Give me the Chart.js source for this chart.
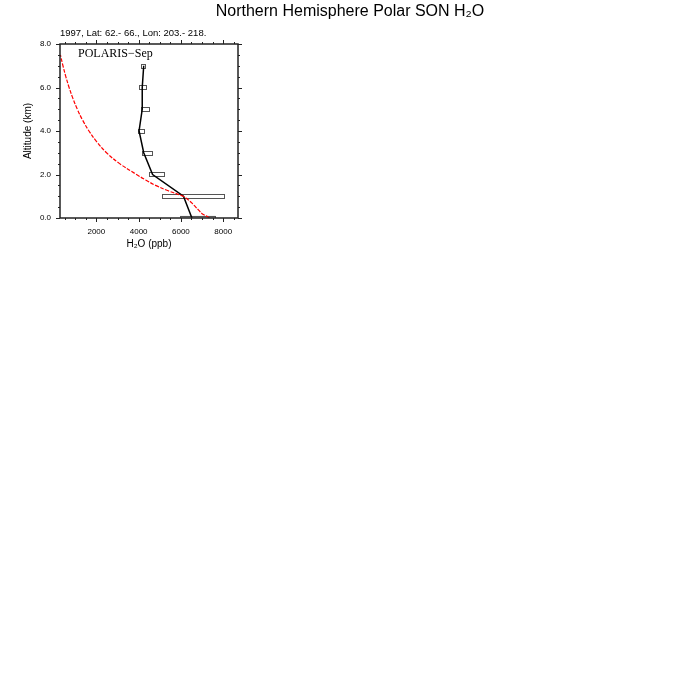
<!DOCTYPE html>
<html>
<head>
<meta charset="utf-8">
<script src="https://cdn.jsdelivr.net/npm/chart.js@4.4.1/dist/chart.umd.min.js"></script>
<style>
  html, body { margin: 0; padding: 0; background: #fff; }
  #wrap { width: 700px; height: 700px; }
</style>
</head>
<body>
<div id="wrap"><canvas id="profile" width="700" height="700"></canvas></div>
<script>
// observed profile (POLARIS, Sep)
const altitudes = [0, 1, 2, 3, 4, 5, 6, 7];
const obsMedian = [6520, 6120, 4660, 4240, 4020, 4170, 4170, 4240];
const boxLow  = [5960, 5120, 4480, 4140, 3960, 4100, 4040, 4130];
const boxHigh = [7630, 8070, 5190, 4590, 4240, 4470, 4370, 4330];

// model profile (red dashed)
const modelAlt = [0.0, 0.05, 0.2, 0.35, 0.5, 0.66, 0.85, 1.0, 1.25, 1.5, 1.75, 2.0, 2.5, 3.0, 3.5, 4.0, 4.5, 5.0, 5.5, 6.0, 6.5, 7.0, 7.5];
const modelH2O = [7350, 7280, 7000, 6850, 6700, 6550, 6330, 6100, 5400, 4800, 4330, 3900, 3100, 2480, 2020, 1650, 1350, 1100, 890, 710, 555, 420, 300];

const xTicks = [2000, 4000, 6000, 8000];
const yTicks = [0, 2, 4, 6, 8];
const xMinor = [500, 1000, 1500, 2500, 3000, 3500, 4500, 5000, 5500, 6500, 7000, 7500, 8500];
const yMinor = [0.5, 1, 1.5, 2.5, 3, 3.5, 4.5, 5, 5.5, 6.5, 7, 7.5];

const titleText = 'Northern Hemisphere Polar SON H\u2082O';
const subText = '1997, Lat: 62.- 66., Lon: 203.- 218.';
const panelLabel = 'POLARIS\u2212Sep';

const sans = 'Liberation Sans, Arial, Helvetica, sans-serif';

const boxPlugin = {
  id: 'boxes',
  beforeDatasetsDraw(chart) {
    const {ctx, chartArea, scales: {x, y}} = chart;
    ctx.save();
    ctx.beginPath();
    ctx.rect(chartArea.left, chartArea.top, chartArea.right - chartArea.left, chartArea.bottom - chartArea.top);
    ctx.clip();
    altitudes.forEach((a, i) => {
      const x0 = x.getPixelForValue(boxLow[i]);
      const x1 = x.getPixelForValue(boxHigh[i]);
      const y0 = y.getPixelForValue(a + 0.1);
      const y1 = y.getPixelForValue(a - 0.1);
      if (i === 0) {
        ctx.fillStyle = '#c4c4c4';
        ctx.fillRect(x0, y0, x1 - x0, y1 - y0);
      }
      ctx.strokeStyle = '#555';
      ctx.lineWidth = 1;
      ctx.strokeRect(Math.round(x0) + 0.5, Math.round(y0) + 0.5, Math.round(x1 - x0), Math.round(y1 - y0));
    });
    ctx.restore();
  }
};

const framePlugin = {
  id: 'frame',
  afterDraw(chart) {
    const {ctx, chartArea: ca, scales: {x, y}} = chart;
    ctx.save();
    ctx.strokeStyle = '#222';
    ctx.lineWidth = 1.5;
    ctx.strokeRect(ca.left, ca.top, ca.right - ca.left, ca.bottom - ca.top);
    ctx.lineWidth = 1;
    ctx.beginPath();
    const tick = (v, len, horiz) => {
      if (horiz) {
        const px = Math.round(x.getPixelForValue(v)) + 0.5;
        if (px < ca.left || px > ca.right) return;
        ctx.moveTo(px, ca.bottom); ctx.lineTo(px, ca.bottom + len);
        ctx.moveTo(px, ca.top); ctx.lineTo(px, ca.top - len);
      } else {
        const py = Math.round(y.getPixelForValue(v)) + 0.5;
        ctx.moveTo(ca.left, py); ctx.lineTo(ca.left - len, py);
        ctx.moveTo(ca.right, py); ctx.lineTo(ca.right + len, py);
      }
    };
    xTicks.forEach(v => tick(v, 4, true));
    xMinor.forEach(v => tick(v, 2, true));
    yTicks.forEach(v => tick(v, 4, false));
    yMinor.forEach(v => tick(v, 2, false));
    ctx.stroke();

    ctx.fillStyle = '#000';
    ctx.textBaseline = 'middle';
    ctx.textAlign = 'center';
    ctx.font = '16px ' + sans;
    ctx.fillText(titleText, 350, 12);
    ctx.textAlign = 'left';
    ctx.font = '9.5px ' + sans;
    ctx.fillText(subText, ca.left, 33);
    ctx.font = '12px Liberation Serif, Times New Roman, serif';
    ctx.fillText(panelLabel, ca.left + 18, 54);
    ctx.restore();
  }
};

new Chart(document.getElementById('profile').getContext('2d'), {
  type: 'scatter',
  data: {
    datasets: [
      {
        label: 'model',
        data: modelAlt.map((a, i) => ({x: modelH2O[i], y: a})),
        showLine: true,
        borderColor: '#ff0000',
        borderWidth: 1.2,
        borderDash: [4, 1.5],
        pointRadius: 0,
        tension: 0.4,
        fill: false
      },
      {
        label: 'obs',
        data: altitudes.map((a, i) => ({x: obsMedian[i], y: a})),
        showLine: true,
        borderColor: '#000',
        borderWidth: 1.5,
        pointRadius: 0,
        tension: 0,
        fill: false
      }
    ]
  },
  options: {
    responsive: false,
    animation: false,
    layout: { padding: { left: 0, top: 44, right: 462, bottom: 442 } },
    plugins: {
      legend: { display: false },
      tooltip: { enabled: false },
      title: { display: false }
    },
    scales: {
      x: {
        type: 'linear',
        min: 280,
        max: 8700,
        afterFit(scale) { scale.height = 40; },
        afterBuildTicks(scale) { scale.ticks = xTicks.map(v => ({value: v})); },
        grid: { display: false, drawTicks: false },
        border: { display: false },
        ticks: { color: '#000', padding: 9, maxRotation: 0, font: { size: 8, family: sans }, callback: v => String(v) },
        title: { display: true, text: 'H\u2082O (ppb)', color: '#000', padding: { top: 0, bottom: 8 }, font: { size: 10, family: sans } }
      },
      y: {
        type: 'linear',
        min: 0,
        max: 8,
        afterFit(scale) { scale.width = 60; },
        afterBuildTicks(scale) { scale.ticks = yTicks.map(v => ({value: v})); },
        grid: { display: false, drawTicks: false },
        border: { display: false },
        ticks: { color: '#000', padding: 9, font: { size: 8, family: sans }, callback: v => v.toFixed(1) },
        title: { display: true, text: 'Altitude (km)', color: '#000', padding: { top: 22, bottom: 0 }, font: { size: 10, family: sans } }
      }
    }
  },
  plugins: [boxPlugin, framePlugin]
});
</script>
</body>
</html>
